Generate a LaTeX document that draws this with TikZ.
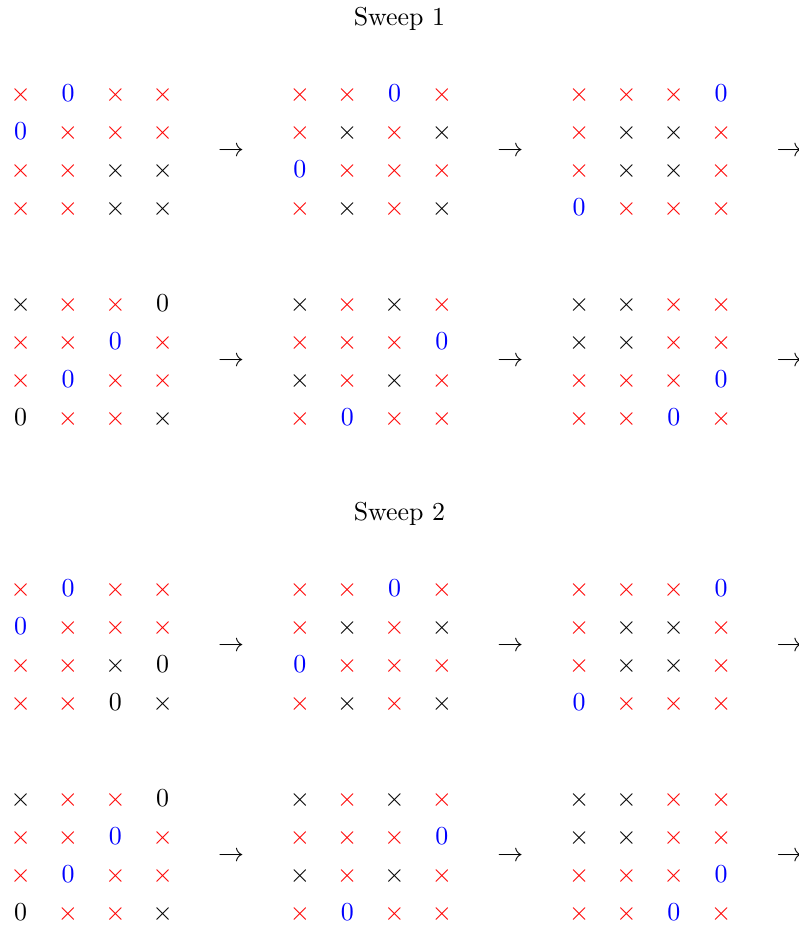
\documentclass[tikz,border=0pt]{standalone}
\usepackage{xcolor}
\newcommand\entr{\textcolor{red}{$\times$}}
\newcommand\entk{$\times$}
\newcommand\entb{\textcolor{blue}{$0$}}
\newcommand\entz{$0$}
\newcommand\drawmat[4]{%
  \foreach \c [count=\i from 0] in {#4}{%
    \pgfmathtruncatemacro\rr{floor(\i/4)}%
    \pgfmathtruncatemacro\cc{mod(\i,4)}%
    \node[ent] (#1-\i) at ({#2+47.33*\cc},{#3+38.3*\rr}) {\csname ent\c\endcsname};
  }}
\begin{document}
\begin{tikzpicture}[x=0.3861pt,y=-0.3861pt,
  ent/.style={inner sep=0pt, outer sep=0pt, anchor=base},
  arr/.style={inner sep=0pt, outer sep=0pt, anchor=base},
  ttl/.style={inner sep=0pt, outer sep=0pt, anchor=base}]
\useasboundingbox (0,0) rectangle (799,930);
% titles
\node[ttl] (t1) at (399.5,25) {Sweep 1};
\node[ttl] (t2) at (399.5,520) {Sweep 2};
% Sweep 1, row A
\drawmat{m1}{20.7}{101}{r,b,r,r, b,r,r,r, r,r,k,k, r,r,k,k}
\drawmat{m2}{299.9}{101}{r,r,b,r, r,k,r,k, b,r,r,r, r,k,r,k}
\drawmat{m3}{579.1}{101}{r,r,r,b, r,k,k,r, r,k,k,r, b,r,r,r}
% Sweep 1, row B
\drawmat{m4}{20.7}{311}{k,r,r,z, r,r,b,r, r,b,r,r, z,r,r,k}
\drawmat{m5}{299.9}{311}{k,r,k,r, r,r,r,b, k,r,k,r, r,b,r,r}
\drawmat{m6}{579.1}{311}{k,k,r,r, k,k,r,r, r,r,r,b, r,r,b,r}
% Sweep 2, row C
\drawmat{m7}{20.7}{596}{r,b,r,r, b,r,r,r, r,r,k,z, r,r,z,k}
\drawmat{m8}{299.9}{596}{r,r,b,r, r,k,r,k, b,r,r,r, r,k,r,k}
\drawmat{m9}{579.1}{596}{r,r,r,b, r,k,k,r, r,k,k,r, b,r,r,r}
% Sweep 2, row D
\drawmat{m10}{20.7}{806}{k,r,r,z, r,r,b,r, r,b,r,r, z,r,r,k}
\drawmat{m11}{299.9}{806}{k,r,k,r, r,r,r,b, k,r,k,r, r,b,r,r}
\drawmat{m12}{579.1}{806}{k,k,r,r, k,k,r,r, r,r,r,b, r,r,b,r}
% arrows
\foreach \yy [count=\r] in {101,311,596,806}{
  \foreach \xx [count=\k] in {231.2,510.4,789.6}{
    \node[arr] (a\r-\k) at (\xx,\yy+55.5) {$\rightarrow$};
  }}
\end{tikzpicture}
\end{document}
